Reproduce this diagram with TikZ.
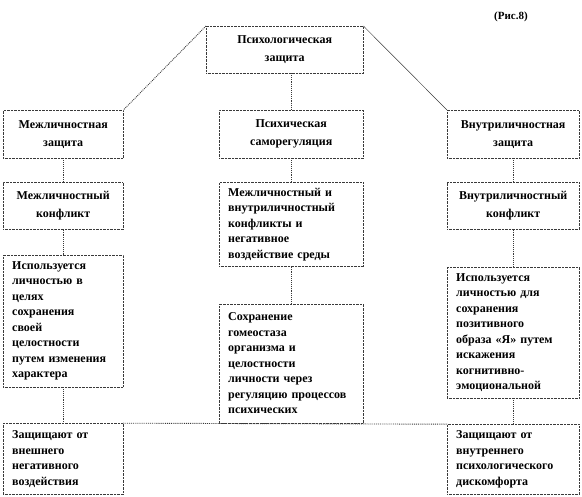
\documentclass[tikz,border=0pt]{standalone}
\usepackage{fontspec}
\setmainfont{Liberation Serif}
\usepackage{xcolor}
\definecolor{cLine}{HTML}{3A3A3A}
\usetikzlibrary{positioning}
\tikzset{
  node-box/.style={draw=cLine,densely dotted,fill=white,inner xsep=9pt,inner ysep=0pt,
    font=\fontsize{12}{15.5}\selectfont\bfseries},
  node-head/.style={node-box,align=center,font=\fontsize{12}{18}\selectfont\bfseries},
  node-text/.style={node-box,align=left},
  col-left/.style={text width=102pt},
  col-mid/.style={text width=126pt},
  col-right/.style={text width=114pt},
  link-dot/.style={draw=cLine,densely dotted,line width=0.9pt},
  link-thin/.style={draw=cLine,line width=0.5pt},
}

\begin{document}
\begin{tikzpicture}[x=1pt,y=-1pt]
  \useasboundingbox (0,0) rectangle (582,497);
  \node[font=\fontsize{11}{13}\selectfont\bfseries] (fig) at (511,17) {(Рис.8)};
  \node[node-head,text width=139pt,minimum height=47pt,anchor=north west] (psy) at (206,26) {Психологическая\\защита};
  % уровень 2
  \node[node-head,col-left,minimum height=48pt,anchor=north west]  (l2) at (3,110)   {Межличностная\\защита};
  \node[node-head,col-mid,minimum height=48pt,anchor=north west]   (m2) at (219,110) {Психическая\\саморегуляция};
  \node[node-head,col-right,minimum height=48pt,anchor=north west] (r2) at (447,110) {Внутриличностная\\защита};
  % уровень 3
  \node[node-head,col-left,minimum height=47pt,below=24pt of l2]  (l3) {Межличностный\\конфликт};
  \node[node-text,col-mid,minimum height=84pt,below=24pt of m2]   (m3) {Межличностный и\\внутриличностный\\конфликты и\\негативное\\воздействие  среды};
  \node[node-head,col-right,minimum height=47pt,below=24pt of r2] (r3) {Внутриличностный\\конфликт};
  % уровень 4
  \node[node-text,col-left,minimum height=132pt,below=25pt of l3]  (l4) {Используется\\личностью в\\целях\\сохранения\\своей\\целостности\\путем изменения\\характера};
  \node[node-text,col-mid,minimum height=119pt,below=37pt of m3]   (m4) {Сохранение\\гомеостаза\\организма и\\целостности\\личности через\\регуляцию процессов\\психических};
  \node[node-text,col-right,minimum height=131pt,below=37pt of r3] (r4) {Используется\\личностью для\\сохранения\\позитивного\\образа «Я» путем\\искажения\\когнитивно-\\эмоциональной};
  % уровень 5
  \node[node-text,col-left,minimum height=71pt,below=36pt of l4]  (l5) {Защищают от\\внешнего\\негативного\\воздействия};
  \node[node-text,col-right,minimum height=70pt,below=26pt of r4] (r5) {Защищают от\\внутреннего\\психологического\\дискомфорта};
  \draw[link-dot] (psy.north west) -- (l2.north east);
  \draw[link-thin] (psy.north east) -- (r2.north west);
  \draw[link-dot] (m2.north) -- (m2.north |- psy.south);
  \draw[link-dot] (l2.south) -- (l3.north);
  \draw[link-dot] (m2.south) -- (m3.north);
  \draw[link-dot] (r2.south) -- (r3.north);
  \draw[link-dot] (l3.south) -- (l4.north);
  \draw[link-dot] (m3.south) -- (m4.north);
  \draw[link-dot] (r3.south) -- (r4.north);
  \draw[link-dot] (l4.south) -- (l5.north);
  \draw[link-dot] (r4.south) -- (r5.north);
  \draw[link-dot] (l5.north east) -- (r5.north west);
\end{tikzpicture}
\end{document}
